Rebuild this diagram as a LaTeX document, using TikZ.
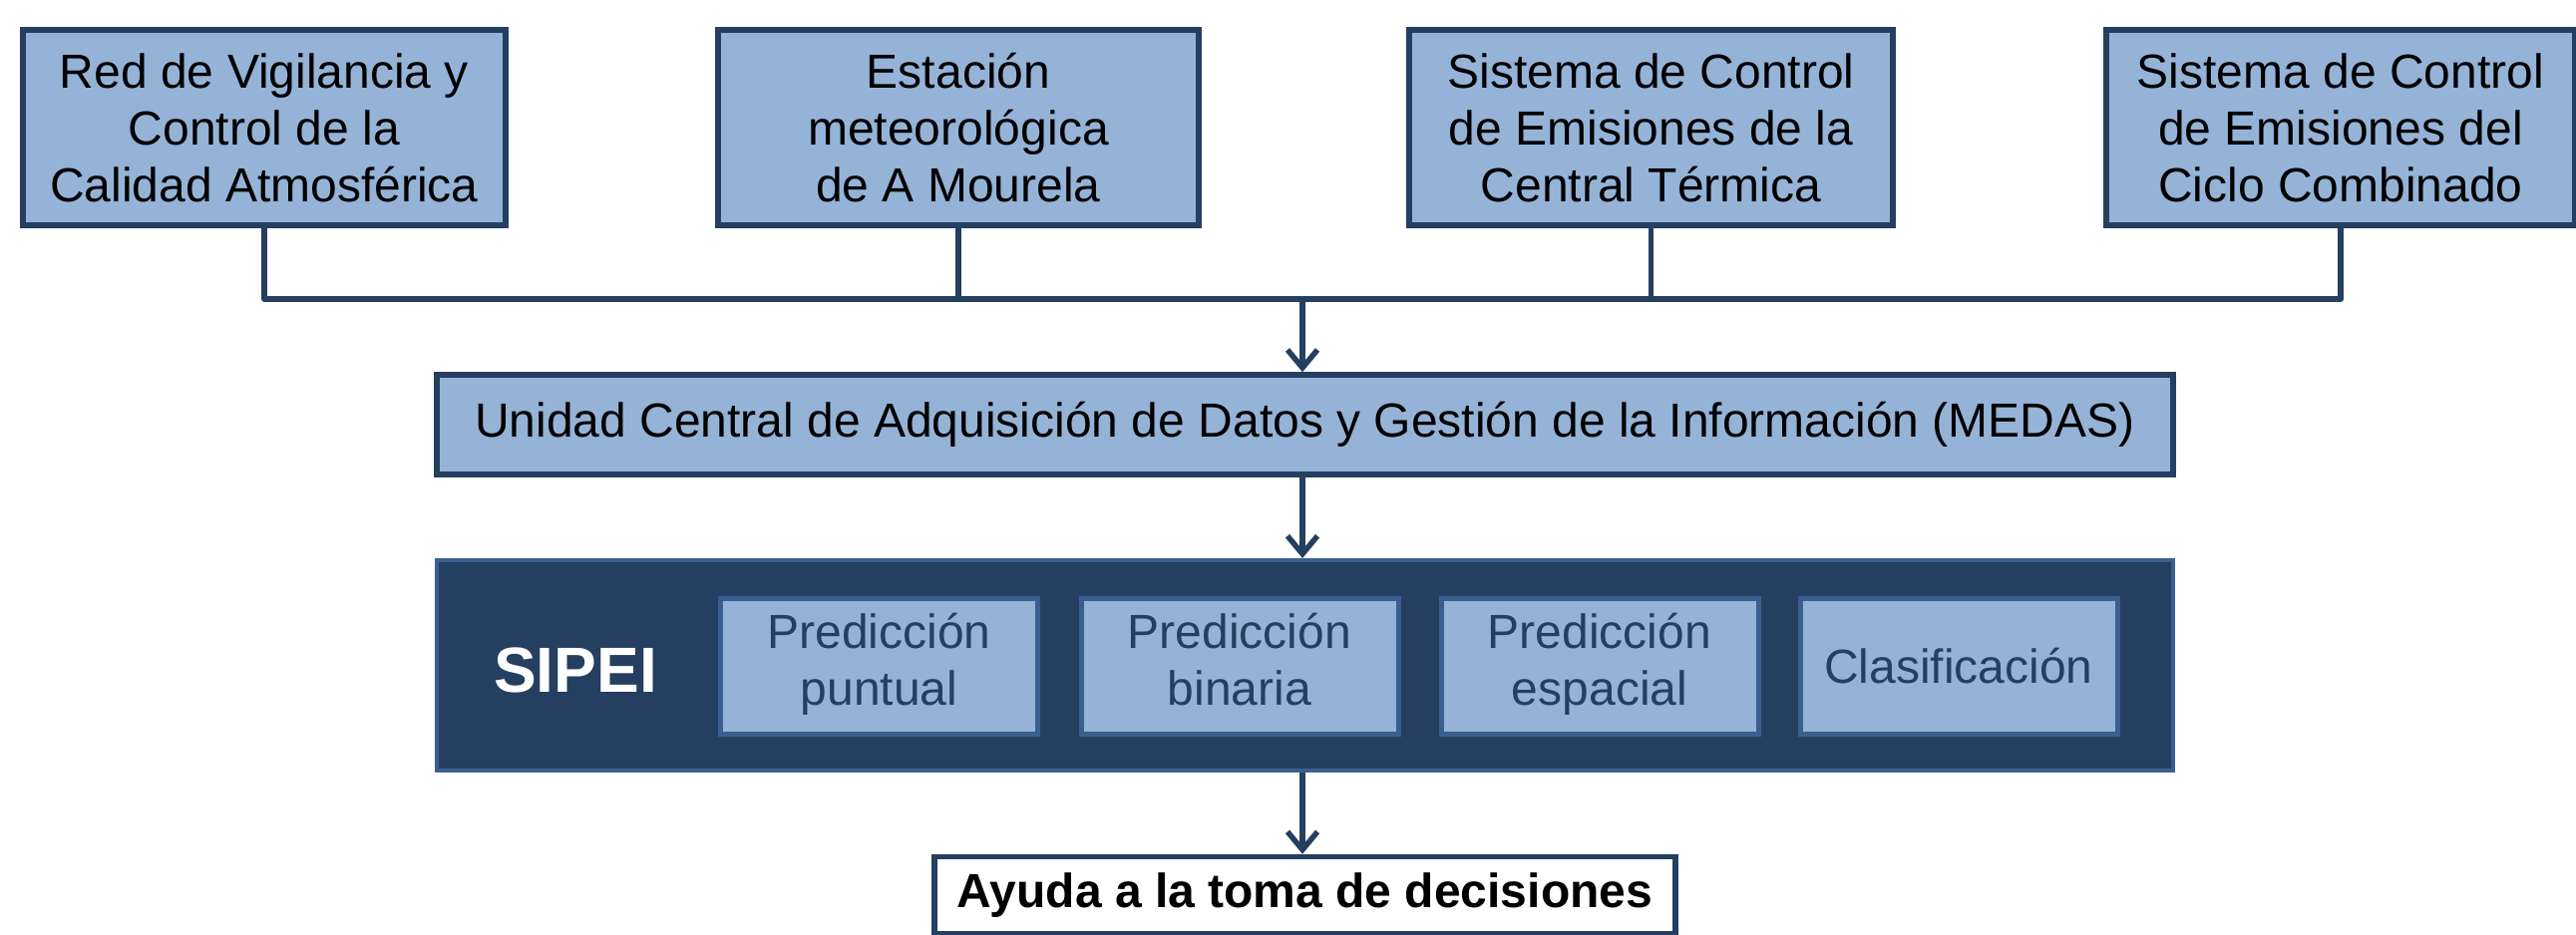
\documentclass[tikz,border=0pt]{standalone}
\usepackage{fontspec}
\setmainfont{Liberation Sans}
\usetikzlibrary{arrows.meta}
\definecolor{fillblue}{HTML}{95B3D7}
\definecolor{darkblue}{HTML}{243F60}
\definecolor{midblue}{HTML}{3A5F8F}
\begin{document}
\begin{tikzpicture}[x=1pt,y=-1pt,
  topbox/.style={draw=darkblue,fill=fillblue,line width=5.5pt,minimum width=#1,minimum height=196,inner sep=0pt,align=center,font=\fontsize{48}{57}\selectfont,text=black},
  conn/.style={draw=darkblue,line width=5.5pt},
  arr/.style={conn,-{Straight Barb[length=18pt,width=30pt,line width=5.5pt]}},
  innerbox/.style={draw=midblue,fill=fillblue,line width=5pt,minimum width=318,minimum height=136,inner sep=0pt,align=center,font=\fontsize{48}{57}\selectfont,text=darkblue}]
\useasboundingbox (0,0) rectangle (2583,937);
\node[topbox=484] (b1) at (265,128) {Red de Vigilancia y\\Control de la\\Calidad Atmosférica};
\node[topbox=482] (b2) at (961,128) {Estación\\meteorológica\\de A Mourela};
\node[topbox=485] (b3) at (1655.5,128) {Sistema de Control\\de Emisiones de la\\Central Térmica};
\node[topbox=470] (b4) at (2347,128) {Sistema de Control\\de Emisiones del\\Ciclo Combinado};
\node[draw=darkblue,fill=fillblue,line width=5.5pt,minimum width=1741,minimum height=100,inner sep=0pt,font=\fontsize{48}{57}\selectfont] (medas) at (1308.5,426) {Unidad Central de Adquisición de Datos y Gestión de la Información (MEDAS)};
\node[draw=midblue,fill=darkblue,line width=4pt,minimum width=1741,minimum height=211,inner sep=0pt] (sipei) at (1308.5,667.5) {};
\node[text=white,font=\fontsize{64}{72}\selectfont\bfseries] (sipeilbl) at (577,672) {SIPEI};
\node[innerbox] (p1) at (881.5,668) {\strut Predicción\\\strut puntual};
\node[innerbox] (p2) at (1243,668) {\strut Predicción\\\strut binaria};
\node[innerbox] (p3) at (1604,668) {\strut Predicción\\\strut espacial};
\node[innerbox] (p4) at (1964,668) {Clasificación};
\node[draw=darkblue,fill=white,line width=5.5pt,minimum width=743,minimum height=77,inner sep=0pt,font=\fontsize{48}{57}\selectfont\bfseries] (ayuda) at (1308.5,898) {Ayuda a la toma de decisiones};
\coordinate (hl) at (265,300);
\coordinate (hr) at (2347,300);
\coordinate (hm) at (1306,300);
\draw[conn,line cap=round,line join=round] (b1.south) |- (hl) -- (hr) -| (b4.south);
\draw[conn] (b2.south) -- (b2.south |- hl);
\draw[conn] (b3.south) -- (b3.south |- hl);
\draw[arr] (hm) -- (hm |- medas.north);
\draw[arr] (medas.south -| hm) -- (sipei.north -| hm);
\draw[arr] (sipei.south -| hm) -- (ayuda.north -| hm);
\end{tikzpicture}
\end{document}
